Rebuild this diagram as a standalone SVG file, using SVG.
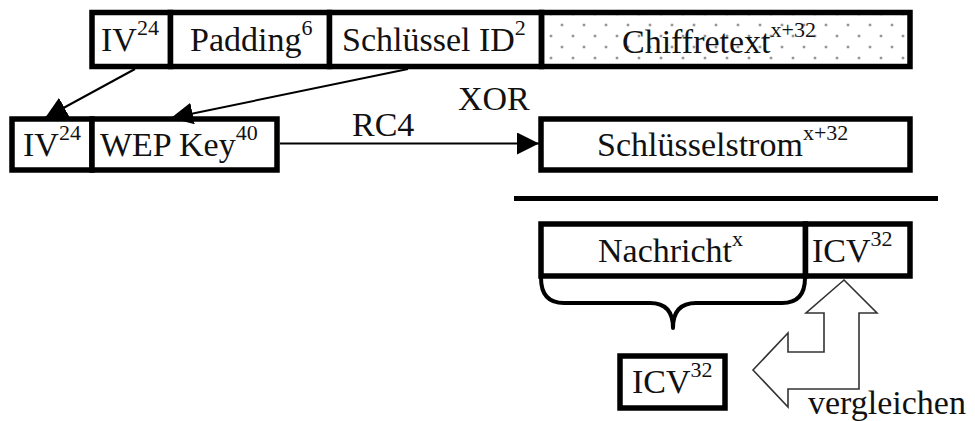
<svg xmlns="http://www.w3.org/2000/svg" width="975" height="421" viewBox="0 0 975 421">
  <style>
    .box { fill: #fff; stroke: #000; stroke-width: 5.5; }
    .t { font-family: "Liberation Serif", "Times New Roman", serif; font-size: 34px; fill: #111; }
    .sup { font-size: 22px; }
    .wire { fill: none; stroke: #000; stroke-width: 2; }
    .brace { fill: none; stroke: #000; stroke-width: 4; stroke-linejoin: round; }
    .hollow { fill: #fff; stroke: #333; stroke-width: 1.6; stroke-linejoin: miter; }
  </style>
  <defs>
    <pattern id="dots" patternUnits="userSpaceOnUse" x="864.5" y="19.5" width="22" height="22">
      <circle cx="5.5" cy="5.5" r="1.1" fill="#333"/>
      <circle cx="16.5" cy="16.5" r="1.1" fill="#333"/>
    </pattern>
    <marker id="head" markerUnits="userSpaceOnUse" markerWidth="22" markerHeight="22" refX="22" refY="11" orient="auto">
      <path d="M0,0 L22,11 L0,22 z" fill="#000"/>
    </marker>
  </defs>

  <!-- encrypted frame: IV | padding | key id | ciphertext -->
  <g id="frame-iv">
    <rect class="box" x="92" y="12.5" width="78.5" height="54"/>
    <text class="t" x="101" y="51">IV<tspan class="sup" dy="-16">24</tspan></text>
  </g>
  <g id="frame-padding">
    <rect class="box" x="170.5" y="12.5" width="159" height="54"/>
    <text class="t" x="190" y="51">Padding<tspan class="sup" dy="-16">6</tspan></text>
  </g>
  <g id="frame-keyid">
    <rect class="box" x="329.5" y="12.5" width="212" height="54"/>
    <text class="t" x="342" y="51">Schlüssel ID<tspan class="sup" dy="-16">2</tspan></text>
  </g>
  <g id="frame-cipher">
    <rect class="box" x="541.5" y="12.5" width="368.5" height="54" style="fill:url(#dots)"/>
    <text class="t" x="622" y="53">Chiffretext<tspan class="sup" dy="-16">x+32</tspan></text>
  </g>

  <!-- RC4 seed: IV | WEP key -->
  <g id="seed-iv">
    <rect class="box" x="12" y="119" width="80" height="51"/>
    <text class="t" x="23" y="156">IV<tspan class="sup" dy="-16">24</tspan></text>
  </g>
  <g id="seed-key">
    <rect class="box" x="92" y="119" width="185" height="51"/>
    <text class="t" x="100" y="156">WEP Key<tspan class="sup" dy="-16">40</tspan></text>
  </g>

  <!-- keystream -->
  <g id="keystream">
    <rect class="box" x="541" y="119" width="369" height="51"/>
    <text class="t" x="597" y="156">Schlüsselstrom<tspan class="sup" dy="-16">x+32</tspan></text>
  </g>

  <!-- XOR result rule -->
  <g id="xor-rule">
    <line x1="514" y1="198.5" x2="938" y2="198.5" stroke="#000" stroke-width="5"/>
  </g>

  <!-- decrypted plaintext: message | ICV -->
  <g id="plain-message">
    <rect class="box" x="541" y="224" width="264.5" height="52"/>
    <text class="t" x="598" y="262">Nachricht<tspan class="sup" dy="-16">x</tspan></text>
  </g>
  <g id="plain-icv">
    <rect class="box" x="805.5" y="224" width="104.5" height="52"/>
    <text class="t" x="812" y="262">ICV<tspan class="sup" dy="-16">32</tspan></text>
  </g>

  <!-- recomputed ICV -->
  <g id="computed-icv">
    <rect class="box" x="620" y="356" width="105" height="52"/>
    <text class="t" x="632" y="393">ICV<tspan class="sup" dy="-16">32</tspan></text>
  </g>

  <!-- compare arrow -->
  <g id="compare">
    <polygon class="hollow" points="844,280 877,313 859,313 859,389 788,389 788,407 753,370 788,333 788,352 824,352 824,313 806,313"/>
    <text class="t" x="808" y="414">vergleichen</text>
  </g>

  <!-- connectors -->
  <g id="connectors">
    <line class="wire" x1="135" y1="69" x2="45" y2="118" marker-end="url(#head)"/>
    <line class="wire" x1="408" y1="69" x2="171" y2="118" marker-end="url(#head)"/>
    <line class="wire" x1="280" y1="143.5" x2="539" y2="143.5" marker-end="url(#head)"/>
    <path class="brace" d="M541,278 Q541,303 564,303 L650,303 Q673,303 673,328 Q673,303 696,303 L782,303 Q805,303 805,278"/>
    <text class="t" x="352" y="136">RC4</text>
    <text class="t" x="458" y="110">XOR</text>
  </g>
</svg>
